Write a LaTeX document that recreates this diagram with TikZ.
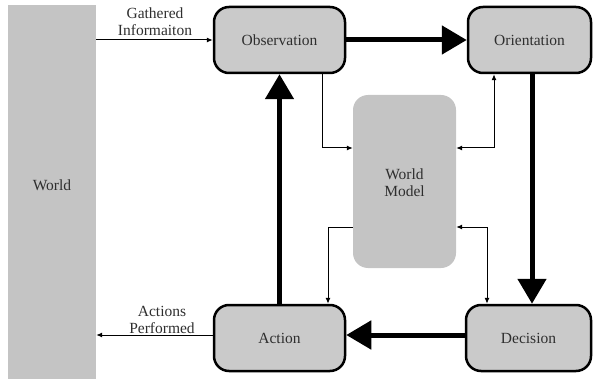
\documentclass[tikz,border=0pt]{standalone}
\usepackage{fontspec}
\setmainfont{Liberation Serif}
\usetikzlibrary{arrows.meta}
\definecolor{boxfill}{HTML}{CACACA}
\definecolor{worldfill}{HTML}{C4C4C4}
\definecolor{inkgray}{HTML}{2E2E2E}
\begin{document}
\begin{tikzpicture}[x=1pt,y=-1pt,
  font=\fontsize{15.5}{17}\selectfont,
  every node/.style={text=inkgray, align=center, inner sep=0pt},
  stage/.style={draw=black, line width=2.5pt, fill=boxfill, rounded corners=15pt},
  plainbox/.style={fill=worldfill},
  bigflow/.style={line width=5pt, -{Triangle[length=25pt,width=28pt]}},
  smallflow/.style={line width=1pt, -{Latex[length=6pt,width=5pt]}},
  twoway/.style={line width=1pt, {Latex[length=6pt,width=5pt]}-{Latex[length=6pt,width=5pt]}}]
\useasboundingbox (0,0) rectangle (593,379);

% environment and internal model
\node[plainbox, minimum width=88pt, minimum height=374pt] (World) at (52,192) {};
\node at (52,185) {World};
\node[plainbox, rounded corners=15pt, minimum width=103pt, minimum height=173pt] (WM) at (404.5,181.5) {};
\node at (404.5,183) {World\\Model};

% the four OODA stages
\node[stage, minimum width=131pt, minimum height=66pt] (Observation) at (279.5,40) {Observation};
\node[stage, minimum width=123pt, minimum height=66pt] (Orientation) at (529.5,40) {Orientation};
\node[stage, minimum width=125pt, minimum height=66pt] (Decision) at (528.5,338) {Decision};
\node[stage, minimum width=131pt, minimum height=66pt] (Action) at (279.5,338) {Action};

% main loop
\draw[bigflow] (Observation.east) -- (Orientation.west);
\draw[bigflow] ([xshift=2.5pt]Orientation.south) -- ([xshift=3.5pt]Decision.north);
\draw[bigflow] ([yshift=3pt]Decision.west) -- ([yshift=3pt]Action.east);
\draw[bigflow] (Action.north) -- (Observation.south);

% exchange with the world
\draw[smallflow] (Observation.west -| World.east) -- (Observation.west);
\draw[smallflow] ([yshift=3pt]Action.west) -- ([yshift=3pt]Action.west -| World.east);
\node at (155,22) {Gathered\\Informaiton};
\node at (162,320) {Actions\\Performed};

% links with the world model
\coordinate (upper) at (0,148);
\coordinate (lower) at (0,227);
\draw[smallflow] ([xshift=42.5pt]Observation.south) |- (WM.west |- upper);
\draw[twoway] (WM.east |- upper) -| ([xshift=-35.5pt]Orientation.south);
\draw[smallflow] (WM.west |- lower) -| ([xshift=48.5pt]Action.north);
\draw[twoway] (WM.east |- lower) -| ([xshift=-41.5pt]Decision.north);
\end{tikzpicture}
\end{document}
